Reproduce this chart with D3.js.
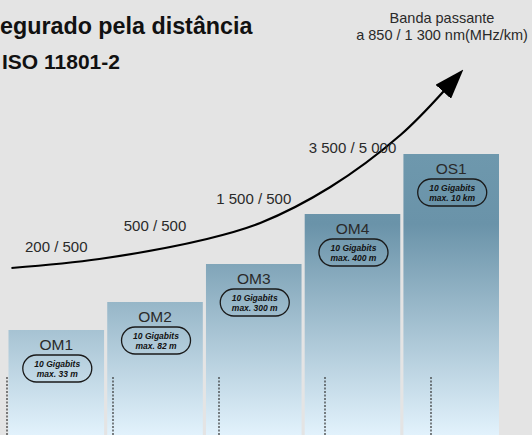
<!DOCTYPE html>
<html>
<head>
<meta charset="utf-8">
<script src="https://cdn.jsdelivr.net/npm/d3@7"></script>
<style>
  html, body { margin: 0; padding: 0; background: #e4e4e4; overflow: hidden; }
  svg { display: block; }
</style>
</head>
<body>
<svg id="chart" width="532" height="435"></svg>
<script>
// Fibre categories and their relative step height
const categories = ["OM1", "OM2", "OM3", "OM4", "OS1"];
const levels = [105, 133, 171, 221, 281];

// Text inside each pill
const speeds = ["10 Gigabits", "10 Gigabits", "10 Gigabits", "10 Gigabits", "10 Gigabits"];
const reach = ["max. 33 m", "max. 82 m", "max. 300 m", "max. 400 m", "max. 10 km"];

// Modal bandwidth at 850 / 1300 nm (MHz·km), one per multimode class
const bandwidths = ["200 / 500", "500 / 500", "1 500 / 500", "3 500 / 5 000"];

// Growth curve, in category-index units vs. level units
const curveIndex = [0.03, 0.92, 2.01, 2.55, 3.26, 3.97, 4.41];
const curveLevel = [167, 176, 196, 212, 248, 300, 344];

const W = 532, H = 435;
const svg = d3.select("#chart");

const x = d3.scaleBand().domain(categories).range([8.5, 499]).paddingInner(0.032).paddingOuter(0);
const xi = d3.scaleLinear().domain([0, 5]).range([8.5, 8.5 + 5 * x.step()]);
const y = d3.scaleLinear().domain([0, 300]).range([H, 135]);

const defs = svg.append("defs");
const grad = defs.append("linearGradient")
  .attr("id", "barFill")
  .attr("gradientUnits", "userSpaceOnUse")
  .attr("x1", 0).attr("x2", 0).attr("y1", 154).attr("y2", H);
grad.append("stop").attr("offset", "0%").attr("stop-color", "#6e98ad");
grad.append("stop").attr("offset", "25%").attr("stop-color", "#6a93a9");
grad.append("stop").attr("offset", "100%").attr("stop-color", "#e2f2fc");

defs.append("marker")
  .attr("id", "arrowHead")
  .attr("markerUnits", "userSpaceOnUse")
  .attr("viewBox", "0 0 30 21")
  .attr("markerWidth", 30).attr("markerHeight", 21)
  .attr("refX", 1).attr("refY", 10.5)
  .attr("orient", "auto")
  .append("path").attr("d", "M0,0 L30,10.5 L0,21 Z").attr("fill", "#000");

svg.append("rect").attr("width", W).attr("height", H).attr("fill", "#e4e4e4");

// Steps
const bars = svg.append("g").selectAll("g")
  .data(categories.map((c, i) => ({ c, v: levels[i], s: speeds[i], r: reach[i] })))
  .join("g");

bars.append("rect")
  .attr("x", d => x(d.c))
  .attr("y", d => y(d.v))
  .attr("width", x.bandwidth())
  .attr("height", d => y(0) - y(d.v))
  .attr("fill", "url(#barFill)");

bars.append("text")
  .attr("x", d => x(d.c) + x.bandwidth() / 2)
  .attr("y", d => y(d.v) + 20)
  .attr("text-anchor", "middle")
  .attr("font-family", "Liberation Sans, Arial, sans-serif")
  .attr("font-size", 15.5)
  .attr("fill", "#2a2a2a")
  .text(d => d.c);

const pillW = 69, pillH = 27;
bars.append("rect")
  .attr("x", d => x(d.c) + x.bandwidth() / 2 - pillW / 2 + 1)
  .attr("y", d => y(d.v) + 25)
  .attr("width", pillW).attr("height", pillH)
  .attr("rx", 13.5).attr("ry", 13.5)
  .attr("fill", "none")
  .attr("stroke", "#1a1a1a")
  .attr("stroke-width", 1.3);

const pillText = bars.append("text")
  .attr("text-anchor", "middle")
  .attr("font-family", "Liberation Sans, Arial, sans-serif")
  .attr("font-size", 8.5)
  .attr("font-weight", "bold")
  .attr("font-style", "italic")
  .attr("fill", "#111");
pillText.append("tspan")
  .attr("x", d => x(d.c) + x.bandwidth() / 2 + 1)
  .attr("y", d => y(d.v) + 37)
  .text(d => d.s);
pillText.append("tspan")
  .attr("x", d => x(d.c) + x.bandwidth() / 2 + 1)
  .attr("y", d => y(d.v) + 47)
  .text(d => d.r);

// Dotted guides at the foot of each step
const guideX = d3.scaleLinear().domain([0, 4]).range([7, 431]);
svg.append("g").selectAll("line")
  .data(categories)
  .join("line")
  .attr("x1", (d, i) => guideX(i)).attr("x2", (d, i) => guideX(i))
  .attr("y1", 377).attr("y2", H)
  .attr("stroke", "#333")
  .attr("stroke-width", 1.2)
  .attr("stroke-dasharray", "2,1.5");

// Growth curve with arrow
const curvePts = curveIndex.map((v, i) => [xi(v), y(curveLevel[i])]);
const line = d3.line().curve(d3.curveCatmullRom.alpha(0.5));
const curvePath = svg.append("path")
  .attr("d", line(curvePts))
  .attr("fill", "none")
  .attr("stroke", "#000")
  .attr("stroke-width", 2.2)
  .attr("marker-end", "url(#arrowHead)");

// Bandwidth labels above the curve
const labelLift = [12, 19, 22, 19];
const pathNode = curvePath.node();
function curveYAt(px) {
  const len = pathNode.getTotalLength();
  let lo = 0, hi = len;
  for (let k = 0; k < 40; k++) {
    const mid = (lo + hi) / 2;
    if (pathNode.getPointAtLength(mid).x < px) lo = mid; else hi = mid;
  }
  return pathNode.getPointAtLength(lo).y;
}
svg.append("g").selectAll("text")
  .data(bandwidths)
  .join("text")
  .attr("x", (d, i) => x(categories[i]) + x.bandwidth() / 2)
  .attr("y", (d, i) => curveYAt(x(categories[i]) + x.bandwidth() / 2) - labelLift[i])
  .attr("text-anchor", "middle")
  .attr("font-family", "Liberation Sans, Arial, sans-serif")
  .attr("font-size", 15)
  .attr("fill", "#2a2a2a")
  .text(d => d);

// Axis caption, top right
const cap = svg.append("text")
  .attr("text-anchor", "middle")
  .attr("font-family", "Liberation Sans, Arial, sans-serif")
  .attr("font-size", 14.5)
  .attr("fill", "#2a2a2a");
cap.append("tspan").attr("x", 442).attr("y", 23).text("Banda passante");
cap.append("tspan").attr("x", 442).attr("y", 40).text("a 850 / 1 300 nm(MHz/km)");

// Title
svg.append("text")
  .attr("x", 0).attr("y", 34)
  .attr("font-family", "Liberation Sans, Arial, sans-serif")
  .attr("font-size", 23.3)
  .attr("font-weight", "bold")
  .attr("fill", "#111")
  .text("egurado pela distância");
svg.append("text")
  .attr("x", 2).attr("y", 69)
  .attr("font-family", "Liberation Sans, Arial, sans-serif")
  .attr("font-size", 21)
  .attr("font-weight", "bold")
  .attr("fill", "#111")
  .text("ISO 11801-2");
</script>
</body>
</html>
